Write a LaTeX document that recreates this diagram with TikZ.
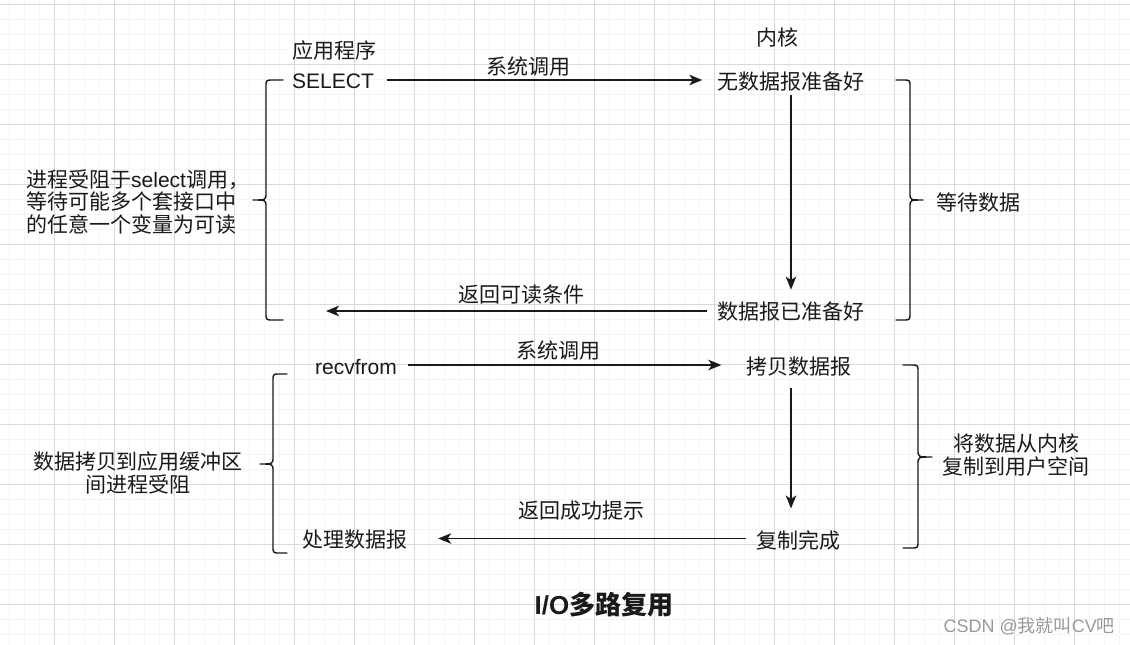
\documentclass[tikz,border=0pt]{standalone}
\usepackage{fontspec}
\setmainfont{Noto Sans CJK SC}
\newfontfamily\lat{Liberation Sans}
\usetikzlibrary{arrows.meta,calc}
\definecolor{gridminor}{HTML}{F4F4F4}
\definecolor{gridmajor}{HTML}{D9D9D9}
\definecolor{ink}{HTML}{1A1A1A}
\begin{document}
\begin{tikzpicture}[x=1pt,y=-1pt,
  txt/.style={inner sep=0pt, text=ink, font=\fontsize{21}{22.5}\selectfont},
  arr/.style={draw=ink, line width=1.5pt, -{Stealth[length=13pt,width=10.5pt,inset=3.5pt]}},
  brace/.style={draw=ink, line width=1.4pt, line join=round, line cap=round},
  minorline/.style={draw=gridminor, line width=0.8pt},
  majorline/.style={draw=gridmajor, line width=1pt}]
\useasboundingbox (0,0) rectangle (1130,645);
\fill[white] (0,0) rectangle (1130,645);
% grid
\foreach \x in {9.3,24.3,...,1130} \draw[minorline] (\x,0) -- (\x,645);
\foreach \y in {4.3,19.3,...,645} \draw[minorline] (0,\y) -- (1130,\y);
\foreach \x in {54.3,114.3,...,1130} \draw[majorline] (\x,0) -- (\x,645);
\foreach \y in {4.3,64.3,...,645} \draw[majorline] (0,\y) -- (1130,\y);

% upper part
\node[txt] (app) at (334,51) {应用程序};
\node[txt] (select) at (333,81) {\lat SELECT};
\node[txt] (kern) at (777,37) {内核};
\node[txt] (nodata) at (791,82) {无数据报准备好};
\node[txt] (ready) at (791,312) {数据报已准备好};
\node[txt, align=left, anchor=west] (wait1) at (26,202) {进程受阻于{\lat select}调用，\\等待可能多个套接口中\\的任意一个变量为可读};
\node[txt] (waitdata) at (978,202) {等待数据};
\node[txt] (sys1) at (528,67) {系统调用};
\node[txt] (ret1lbl) at (521,295) {返回可读条件};
\coordinate (ret1) at (326,311);

\draw[arr] ($(select.east)+(13,-1)$) -- ($(select.east -| nodata.west)+(-15,-1)$);
\draw[arr] ($(nodata.south)+(0,3)$) -- ($(ready.north)+(0,-12.5)$);
\draw[arr] ($(ready.west)+(-10,-1)$) -- (ret1);

% lower part
\node[txt] (recv) at (356,367) {\lat recvfrom};
\node[txt] (copy) at (799,367) {拷贝数据报};
\node[txt] (done) at (798,540) {复制完成};
\node[txt] (proc) at (355,540) {处理数据报};
\node[txt, align=center] (block2) at (138,473) {数据拷贝到应用缓冲区\\间进程受阻};
\node[txt, align=center] (copy2) at (1016,455) {将数据从内核\\复制到用户空间};
\node[txt] (sys2) at (558,351) {系统调用};
\node[txt] (ret2lbl) at (581,511) {返回成功提示};

\draw[arr] ($(recv.east)+(11,-2)$) -- ($(recv.east -| copy.west)+(-25,-2)$);
\draw[arr] ($(copy.south)+(-8,11.5)$) -- ($(copy.south |- done.north)+(-8,-21.5)$);
\draw[arr] ($(done.west)+(-10,-1.5)$) -- ($(done.west -| proc.east)+(30.5,-1.5)$);

% braces
\draw[brace] (283,80) -- (273,80) .. controls (266,80) .. (266,87) -- (266,193)
  .. controls (266,200) .. (253,200) .. controls (266,200) .. (266,207) -- (266,313)
  .. controls (266,320) .. (273,320) -- (283,320);
\draw[brace] (896,80) -- (903,80) .. controls (910,80) .. (910,87) -- (910,193)
  .. controls (910,200) .. (923,200) .. controls (910,200) .. (910,207) -- (910,313)
  .. controls (910,320) .. (903,320) -- (896,320);
\draw[brace] (287,374) -- (280,374) .. controls (273,374) .. (273,381) -- (273,457)
  .. controls (273,464) .. (260,464) .. controls (273,464) .. (273,471) -- (273,546)
  .. controls (273,553) .. (280,553) -- (287,553);
\draw[brace] (903,365) -- (911,365) .. controls (918,365) .. (918,372) -- (918,450)
  .. controls (918,457) .. (932,457) .. controls (918,457) .. (918,464) -- (918,541)
  .. controls (918,548) .. (911,548) -- (903,548);

% title and watermark
\node[inner sep=0pt, text=ink, font=\fontsize{26}{30}\selectfont\bfseries] (title) at (604,605) {{\lat I/O}多路复用};
\node[inner sep=0pt, text=black!40, font=\fontsize{18}{20}\selectfont, anchor=east] (mark) at (1115,626) {{\lat CSDN @}我就叫{\lat CV}吧};
\end{tikzpicture}
\end{document}
